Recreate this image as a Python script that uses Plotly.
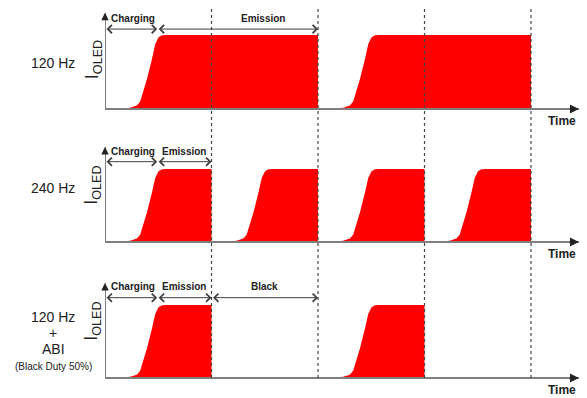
import plotly.graph_objects as go

# ---------------- data ----------------
panel_titles = [["120 Hz"], ["240 Hz"], ["120 Hz", "+", "ABI", "(Black Duty 50%)"]]
# shape of one OLED current pulse (time offset from pulse start, normalised level)
rise_offset = [0.0, 0.11, 0.236, 0.299, 0.33, 0.393, 0.44, 0.472, 0.503, 0.535, 0.58]
rise_level = [0.0, 0.0, 0.018, 0.046, 0.10, 0.40, 0.67, 0.88, 0.97, 0.995, 1.0]
# pulses per panel (time in units of one 240 Hz frame)
pulse_starts = [[0, 2], [0, 1, 2, 3], [0, 2]]
pulse_ends = [[2, 4], [1, 2, 3, 4], [1, 3]]
frame_boundaries = [1, 2, 3, 4]
phase_names = [["Charging", "Emission"], ["Charging", "Emission"], ["Charging", "Emission", "Black"]]
phase_start = [[0, 0.49], [0, 0.49], [0, 0.49, 1]]
phase_end = [[0.49, 2], [0.49, 1], [0.49, 1, 2]]

# ---------------- layout constants ----------------
W, H = 587, 398
PX_PER_T = 106.5
X0_PX = 105
x_range = [0, (W - X0_PX) / PX_PER_T]
t_axis_end = 4.45
y_axis_top = 1.3
y_domains = [[1 - 130 / H, 1.0], [1 - 260 / H, 1 - 130 / H], [0.0, 1 - 260 / H]]
y_ranges = [[-0.284, 1.473], [-0.247, 1.534], [-0.274, 1.616]]
phase_text_y = [1.22, 1.24, 1.25]
phase_arrow_y = [1.08, 1.10, 1.10]
time_label_y = [-0.16, -0.16, -0.17]
ioled_y = [0.66, 0.77, 0.77]
title_y = [[0.62], [0.74], [0.836, 0.616, 0.397, 0.164]]
title_size = [[14], [14], [14, 14, 14, 10]]

FONT = "Liberation Sans, Arial, sans-serif"
RED = "#ff0000"
AXIS = "#7f7f7f"
DARK = "#404040"

fig = go.Figure()
annotations = []
shapes = []

for i in range(3):
    xa = "x" if i == 0 else f"x{i+1}"
    ya = "y" if i == 0 else f"y{i+1}"
    xs, ys = [], []
    for s, e in zip(pulse_starts[i], pulse_ends[i]):
        for o, l in zip(rise_offset, rise_level):
            if s + o < e:
                xs.append(s + o)
                ys.append(l)
        xs += [e, e]
        ys += [1.0, 0.0]
    fig.add_trace(go.Scatter(x=xs, y=ys, mode="lines", fill="tozeroy",
                             fillcolor=RED, line=dict(width=0, color=RED),
                             xaxis=xa, yaxis=ya, hoverinfo="skip"))

    # axis lines
    shapes.append(dict(type="line", xref=xa, yref=ya, x0=0, x1=t_axis_end, y0=0, y1=0,
                       line=dict(color=AXIS, width=2), layer="above"))
    shapes.append(dict(type="line", xref=xa, yref=ya, x0=0, x1=0, y0=0, y1=y_axis_top,
                       line=dict(color=AXIS, width=2), layer="above"))
    # arrow heads
    annotations.append(dict(xref=xa, yref=ya, axref=xa, ayref=ya, x=t_axis_end, y=0,
                            ax=t_axis_end - 0.1, ay=0, text="", showarrow=True,
                            arrowhead=2, arrowsize=1.2, arrowwidth=1.5, arrowcolor="#222"))
    annotations.append(dict(xref=xa, yref=ya, axref=xa, ayref=ya, x=0, y=y_axis_top,
                            ax=0, ay=y_axis_top - 0.1, text="", showarrow=True,
                            arrowhead=2, arrowsize=1.0, arrowwidth=1.5, arrowcolor="#222"))
    # Time label
    annotations.append(dict(xref=xa, yref=ya, x=4.29, y=time_label_y[i], text="<b>Time</b>",
                            showarrow=False, xanchor="center", yanchor="middle",
                            font=dict(family=FONT, size=12, color="#222")))
    # I_OLED label
    annotations.append(dict(xref="paper", yref=ya, x=93 / W, y=ioled_y[i],
                            text="I<sub>OLED</sub>", textangle=-90, showarrow=False,
                            xanchor="center", yanchor="middle",
                            font=dict(family=FONT, size=18, color="#222")))
    # panel titles
    for txt, yy, sz in zip(panel_titles[i], title_y[i], title_size[i]):
        annotations.append(dict(xref="paper", yref=ya, x=53 / W, y=yy, text=txt,
                                showarrow=False, xanchor="center", yanchor="middle",
                                font=dict(family=FONT, size=sz, color="#222")))
    # phase dimension arrows and labels
    for name, a, b in zip(phase_names[i], phase_start[i], phase_end[i]):
        annotations.append(dict(xref=xa, yref=ya, axref=xa, ayref=ya, x=b, y=phase_arrow_y[i],
                                ax=a, ay=phase_arrow_y[i], text="", showarrow=True,
                                arrowhead=4, startarrowhead=4, arrowside="end+start",
                                arrowsize=1.6, startarrowsize=1.6, arrowwidth=1,
                                arrowcolor=DARK, standoff=0, startstandoff=0))
        cx = (a + b) / 2 if name != "Emission" or b - a < 1 else 1.48
        if name == "Charging":
            cx = 0.26
        annotations.append(dict(xref=xa, yref=ya, x=cx, y=phase_text_y[i], text=f"<b>{name}</b>",
                                showarrow=False, xanchor="center", yanchor="middle",
                                font=dict(family=FONT, size=10, color="#222")))

# dashed frame boundaries
for b in frame_boundaries:
    shapes.append(dict(type="line", xref="x", yref="paper", x0=b, x1=b,
                       y0=1 - 378 / H, y1=1 - 7 / H,
                       line=dict(color="#444", width=1.2, dash="3px,3px"), layer="above"))

layout = dict(width=W, height=H, margin=dict(l=0, r=0, t=0, b=0),
              plot_bgcolor="white", paper_bgcolor="white", showlegend=False,
              annotations=annotations, shapes=shapes)
for i in range(3):
    xk = "xaxis" if i == 0 else f"xaxis{i+1}"
    yk = "yaxis" if i == 0 else f"yaxis{i+1}"
    layout[xk] = dict(domain=[X0_PX / W, 1], range=x_range, visible=False, fixedrange=True,
                      anchor="y" if i == 0 else f"y{i+1}")
    layout[yk] = dict(domain=y_domains[i], range=y_ranges[i], visible=False, fixedrange=True,
                      anchor="x" if i == 0 else f"x{i+1}")
fig.update_layout(**layout)
fig.write_html("out.html", config={"displayModeBar": False},
               post_script="document.body.style.margin='0px';document.body.style.overflow='hidden';")
